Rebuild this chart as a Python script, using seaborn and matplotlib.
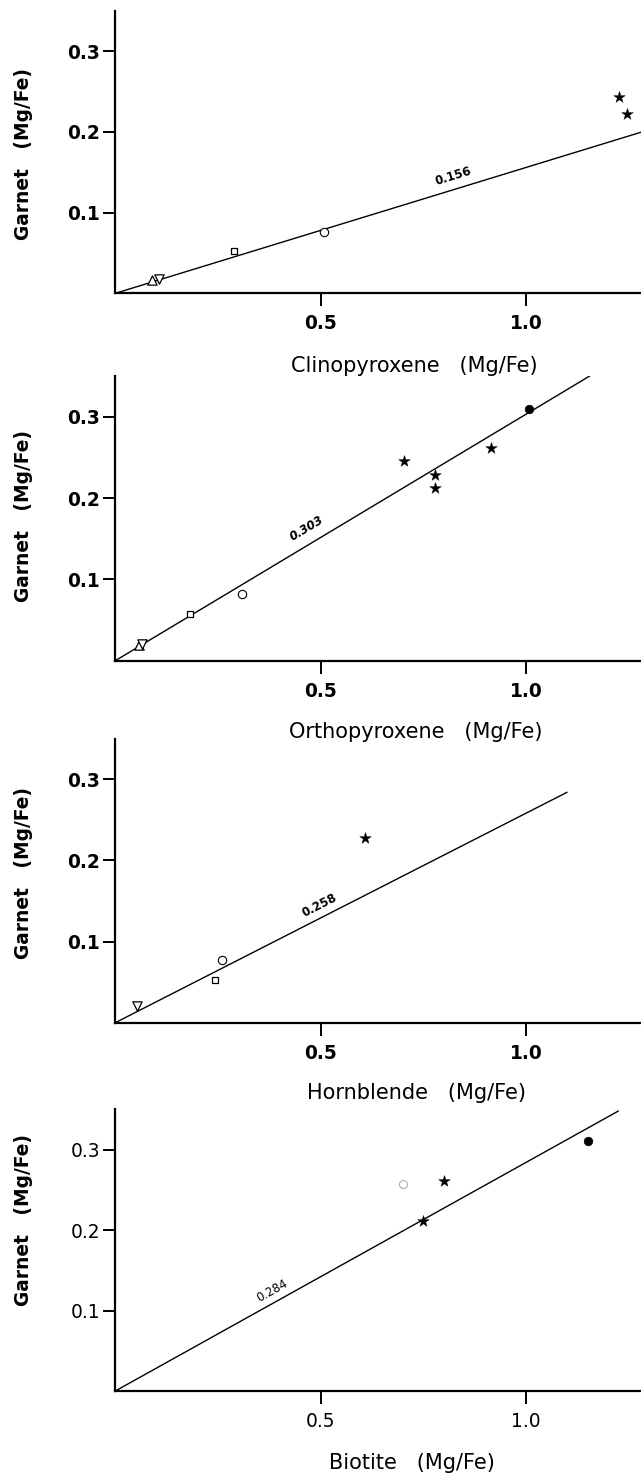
import numpy as np
import pandas as pd
import matplotlib
matplotlib.use("Agg")
import matplotlib.pyplot as plt
import seaborn as sns

# ---------------- data ----------------
cpx_x = [0.089, 0.106, 0.288, 0.507, 1.226, 1.246]
cpx_y = [0.017, 0.018, 0.053, 0.076, 0.243, 0.222]
cpx_sym = ["up", "down", "square", "circle", "star", "star"]

opx_x = [0.057, 0.064, 0.183, 0.308, 0.704, 0.779, 0.778, 0.915, 1.008]
opx_y = [0.019, 0.020, 0.058, 0.0815, 0.246, 0.228, 0.212, 0.261, 0.310]
opx_sym = ["up", "down", "square", "circle", "star", "star", "star", "star", "dot"]

hbl_x = [0.053, 0.243, 0.259, 0.609]
hbl_y = [0.021, 0.053, 0.077, 0.227]
hbl_sym = ["down", "square", "circle", "star"]

bt_x = [0.701, 0.749, 0.801, 1.150]
bt_y = [0.257, 0.211, 0.2605, 0.311]
bt_sym = ["faint", "star", "star", "dot"]

minerals = ["Clinopyroxene", "Orthopyroxene", "Hornblende", "Biotite"]
slopes = [0.156, 0.303, 0.258, 0.284]
slope_labels = ["0.156", "0.303", "0.258", "0.284"]
line_end_x = [1.28, 1.155, 1.10, 1.225]

x_ticks = [0.5, 1.0]
x_ticklabels = ["0.5", "1.0"]
y_ticks = [0.1, 0.2, 0.3]
y_ticklabels = ["0.1", "0.2", "0.3"]

# ---------------- layout / style ----------------
sns.set_style("ticks")
plt.rcParams["font.family"] = ["DejaVu Sans"]
plt.rcParams.update({
    "text.color": "black",
    "axes.labelcolor": "black",
    "xtick.color": "black",
    "ytick.color": "black",
    "axes.edgecolor": "black",
})

W, H = 641, 1476
fig = plt.figure(figsize=(W / 100, H / 100), dpi=100)
fig.patch.set_facecolor("white")

# (axis-left px, top px, bottom px)
panel_px = [(115.3, 11.0, 293.3), (115.3, 376.0, 660.7),
            (115.3, 738.5, 1022.7), (115.3, 1109.3, 1391.0)]
xlabel_pos = [(0.568, -0.2575), (0.572, -0.249), (0.572, -0.247), (0.564, -0.256)]
ylabel_pos = [(-0.174, 0.493), (-0.174, 0.508), (-0.174, 0.527), (-0.174, 0.607)]
slope_text_pos = [(0.824, 0.145), (0.465, 0.162), (0.498, 0.144), (0.381, 0.125)]
slope_text_style = [dict(fontweight="bold"), dict(fontweight="bold", fontstyle="italic"),
                    dict(fontweight="bold"), dict(fontweight="normal")]
tick_weight = ["bold", "bold", "bold", "normal"]

marker_style = {
    "up": dict(marker="^", s=45, facecolor="white", edgecolor="black", linewidth=0.9),
    "down": dict(marker="v", s=45, facecolor="white", edgecolor="black", linewidth=0.9),
    "square": dict(marker="s", s=24, facecolor="white", edgecolor="black", linewidth=0.9),
    "circle": dict(marker="o", s=36, facecolor="white", edgecolor="black", linewidth=0.8),
    "star": dict(marker="*", s=75, facecolor="black", edgecolor="black", linewidth=0.3),
    "dot": dict(marker="o", s=38, facecolor="black", edgecolor="black", linewidth=0.5),
    "faint": dict(marker="o", s=34, facecolor="white", edgecolor="#b0b0b0", linewidth=0.8),
}

datasets = [(cpx_x, cpx_y, cpx_sym), (opx_x, opx_y, opx_sym),
            (hbl_x, hbl_y, hbl_sym), (bt_x, bt_y, bt_sym)]

for i, (xs, ys, syms) in enumerate(datasets):
    left, top, bottom = panel_px[i]
    ax = fig.add_axes([left / W, (H - bottom) / H, (W - left) / W, (bottom - top) / H])
    ax.set_facecolor("none")

    # fitted line through origin
    line_df = pd.DataFrame({"x": [0.0, line_end_x[i]]})
    line_df["y"] = slopes[i] * line_df["x"]
    sns.lineplot(data=line_df, x="x", y="y", ax=ax, color="black", linewidth=1.0,
                 estimator=None, sort=False)

    df = pd.DataFrame({"x": xs, "y": ys, "sym": syms})
    for sym, grp in df.groupby("sym", sort=False):
        sns.scatterplot(data=grp, x="x", y="y", ax=ax, zorder=3, **marker_style[sym])

    # slope label along the line
    angle = np.degrees(np.arctan(slopes[i]))
    tx, ty = slope_text_pos[i]
    ax.text(tx, ty, slope_labels[i], fontsize=8.5, ha="center", va="center",
            rotation=angle, transform_rotates_text=True, rotation_mode="anchor",
            color="black", **slope_text_style[i])

    ax.set_xlim(0, 1.28)
    ax.set_ylim(0, 0.35)
    ax.set_xticks(x_ticks)
    ax.set_xticklabels(x_ticklabels, fontsize=13.4, fontweight=tick_weight[i], color="black")
    ax.set_yticks(y_ticks)
    ax.set_yticklabels(y_ticklabels, fontsize=13.4, fontweight=tick_weight[i], color="black")
    ax.tick_params(axis="x", length=9, width=1.4, pad=6, color="black")
    ax.tick_params(axis="y", length=9, width=1.4, pad=2, color="black")

    sns.despine(ax=ax)
    for sp in ["left", "bottom"]:
        ax.spines[sp].set_linewidth(1.6)
        ax.spines[sp].set_color("black")

    ax.set_xlabel(f"{minerals[i]}   (Mg/Fe)", fontsize=15, fontweight="normal", color="black")
    ax.xaxis.label.set_va("center")
    ax.xaxis.set_label_coords(*xlabel_pos[i])
    ax.set_ylabel("Garnet   (Mg/Fe)", fontsize=13.4, fontweight="bold", color="black")
    ax.yaxis.label.set_va("center")
    ax.yaxis.set_label_coords(*ylabel_pos[i])
    ax.grid(False)

fig.savefig("out.png", dpi=100, facecolor="white")
